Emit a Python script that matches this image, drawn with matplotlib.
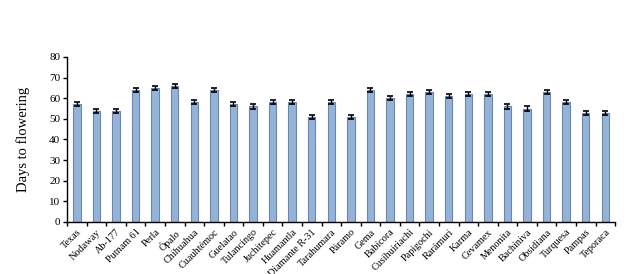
import matplotlib.pyplot as plt
import numpy as np

varieties = ['Texas', 'Nodaway', 'Ab-177', 'Putnam 61', 'Perla', 'Ópalo',
             'Chihuahua', 'Cuauhtémoc', 'Guelatao', 'Tulancingo', 'Juchitepec',
             'Huamantla', 'Diamante R-31', 'Tarahumara', 'Páramo', 'Gema',
             'Babícora', 'Cusihuiriachi', 'Papigochi', 'Rarámuri', 'Karma',
             'Cevamex', 'Menonita', 'Bachíniva', 'Obsidiana', 'Turquesa',
             'Pampas', 'Teporaca']
days = [57, 54, 54, 64, 65, 66, 58, 64, 57, 56, 58, 58, 51, 58, 51, 64,
        60, 62, 63, 61, 62, 62, 56, 55, 63, 58, 53, 53]
err = [1] * len(days)

plt.rcParams['font.family'] = ['Liberation Serif', 'DejaVu Serif']

fig = plt.figure(figsize=(6.27, 2.74), dpi=100)
ax = fig.add_axes([0.107, 0.19, 0.874, 0.602])

x = np.arange(len(varieties))
ax.bar(x, days, width=0.38, color='#95b3d7', edgecolor='#6a86b4', linewidth=0.8,
       yerr=err, capsize=2.3, error_kw=dict(ecolor='black', elinewidth=1, capthick=1.2),
       zorder=2)

ax.set_xlim(-0.5, len(varieties) - 0.5)
ax.set_ylim(0, 80)
ax.set_yticks(range(0, 81, 10))
ax.set_xticks(x)
ax.set_xticklabels(varieties, rotation=45, ha='right', rotation_mode='anchor', fontsize=7.3)
ax.set_xticks(np.arange(-0.5, len(varieties)), minor=True)
ax.tick_params(axis='x', which='major', length=0, pad=4)
ax.tick_params(axis='x', which='minor', length=3, width=1, direction='out')
ax.tick_params(axis='y', length=3, width=1, labelsize=8, pad=2)
ax.set_ylabel('Days to flowering', fontsize=10.5, labelpad=14)

for s in ['top', 'right']:
    ax.spines[s].set_visible(False)
for s in ['left', 'bottom']:
    ax.spines[s].set_linewidth(1)

fig.savefig('out.png', dpi=100)
